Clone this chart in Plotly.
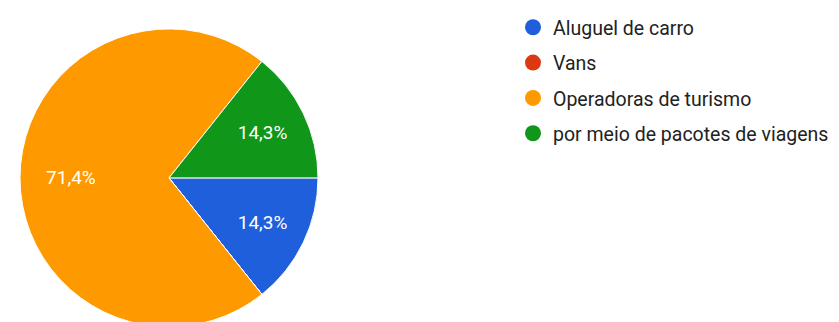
import plotly.graph_objects as go

categories = ["Aluguel de carro", "Vans", "Operadoras de turismo", "por meio de pacotes de viagens"]
values = [1, 0, 5, 1]
colors = ["#1f5fdc", "#dc3912", "#ff9900", "#109618"]

W, H = 839, 322

fig = go.Figure()

# Pie slice labels (percent, Brazilian decimal comma); the large slice's label
# is padded with non-breaking spaces so it sits further out, like the original.
pad = "\u00a0" * 10
templates = []
for v in values:
    if v == 0:
        templates.append("")
    elif v == max(values):
        templates.append("%{percent:.1%}" + pad)
    else:
        templates.append("%{percent:.1%}")

fig.add_trace(go.Pie(
    labels=categories,
    values=values,
    sort=False,
    direction="clockwise",
    rotation=90,
    marker=dict(colors=colors, line=dict(color="white", width=1)),
    texttemplate=templates,
    textposition="inside",
    insidetextorientation="horizontal",
    textfont=dict(color="white", size=19, family="Roboto, Arial, sans-serif"),
    showlegend=False,
    hoverinfo="label+percent",
    domain=dict(x=[12 / W, 310 / W], y=[(H - 320) / H, (H - 16) / H]),
))

for i, (name, col) in enumerate(zip(categories, colors)):
    fig.add_trace(go.Scatter(
        x=[None], y=[None], mode="markers", name=name,
        marker=dict(color=col, size=16, symbol="circle"),
        legendgroup=f"g{i}", showlegend=True,
    ))

fig.update_layout(
    width=W, height=H,
    margin=dict(l=0, r=0, t=0, b=0),
    paper_bgcolor="white", plot_bgcolor="white",
    separators=",.",
    xaxis=dict(visible=False), yaxis=dict(visible=False),
    legend=dict(
        x=505 / W, y=1 + 4 / H, xanchor="left", yanchor="top",
        font=dict(size=19.5, color="#222222", family="Roboto, Arial, sans-serif"),
        tracegroupgap=7, itemwidth=30, bgcolor="rgba(0,0,0,0)",
    ),
)

fig.write_html("out.html")
